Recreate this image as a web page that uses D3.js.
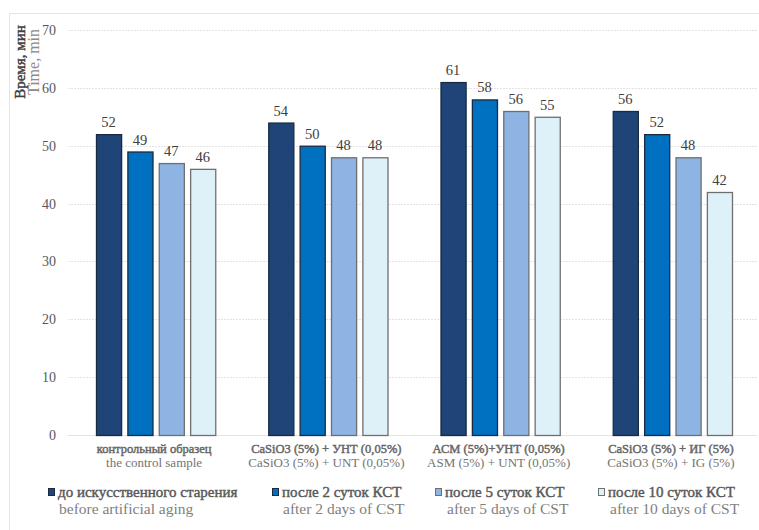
<!DOCTYPE html>
<html>
<head>
<meta charset="utf-8">
<script src="https://cdn.jsdelivr.net/npm/d3@7"></script>
<style>
  body { margin: 0; background: #fff; }
  text { font-family: "Liberation Serif", "Times New Roman", serif; }
  .bold { stroke-width: 0.45px; }
</style>
</head>
<body>
<div id="chart"></div>
<script>
const groupsRu = ["контрольный образец", "CaSiO3 (5%) + УНТ (0,05%)", "АСМ (5%)+УНТ (0,05%)", "CaSiO3 (5%) + ИГ (5%)"];
const groupsEn = ["the control sample", "CaSiO3 (5%) + UNT (0,05%)", "ASM (5%) + UNT (0,05%)", "CaSiO3 (5%) + IG (5%)"];
const seriesRu = ["до искусственного старения", "после 2 суток КСТ", "после 5 суток КСТ", "после 10 суток КСТ"];
const seriesEn = ["before artificial aging", "after 2 days of CST", "after 5 days of CST", "after 10 days of CST"];
const values = [
    [52, 54, 61, 56],
    [49, 50, 58, 52],
    [47, 48, 56, 48],
    [46, 48, 55, 42]
];
const yTicks = [0, 10, 20, 30, 40, 50, 60, 70];
const colors = ["#1f4477", "#0070c0", "#8db4e2", "#dff1f8"];

const width = 759;
const height = 530;
const margin = { top: 30, right: 2, bottom: 95, left: 68 };

const svg = d3.select("#chart")
    .append("svg")
    .attr("width", width)
    .attr("height", height);

// frame (only top and left edges show)
svg.append("path")
    .attr("d", "M9.5,530V13.5H759")
    .attr("fill", "none")
    .attr("stroke", "#e4e4e4");

const g = svg.append("g")
    .attr("transform", `translate(${margin.left},${margin.top})`);

const innerW = width - margin.left - margin.right;
const innerH = 435 - margin.top;

const x0 = d3.scaleBand()
    .domain(d3.range(groupsRu.length))
    .range([0, innerW]);

const x1 = d3.scaleBand()
    .domain(d3.range(seriesRu.length))
    .range([28, x0.bandwidth() - 25])
    .paddingInner(0.2);

const y = d3.scaleLinear()
    .domain([0, 70])
    .range([innerH, 0]);

// gridlines
g.append("g")
    .selectAll("line")
    .data(yTicks)
    .enter()
    .append("line")
    .attr("x1", 0)
    .attr("x2", innerW)
    .attr("y1", d => Math.round(y(d)) + 0.5)
    .attr("y2", d => Math.round(y(d)) + 0.5)
    .attr("stroke", "#e3e3e3")
    .attr("stroke-dasharray", d => d === 0 ? null : "2,1");

// y axis labels
const yAxis = g.append("g")
    .attr("transform", "translate(-12,0)")
    .call(d3.axisLeft(y).tickValues(yTicks).tickSize(0).tickPadding(0));
yAxis.select(".domain").remove();
yAxis.selectAll("text")
    .style("font-family", "'Liberation Serif', serif")
    .style("font-size", "14px")
    .attr("fill", "#595959");

// bars
const groups = g.selectAll(".grp")
    .data(groupsRu)
    .enter()
    .append("g")
    .attr("class", "grp")
    .attr("transform", (d, i) => `translate(${x0(i)},0)`);

groups.selectAll("rect")
    .data((d, gi) => values.map((s, si) => ({ si, v: s[gi] })))
    .enter()
    .append("rect")
    .attr("x", d => x1(d.si) + 0.5)
    .attr("y", d => y(d.v) + 0.5)
    .attr("width", x1.bandwidth())
    .attr("height", d => innerH - y(d.v))
    .attr("fill", d => colors[d.si])
    .attr("stroke", d => d.si < 2 ? "#1a2a40" : "#6f6f6f")
    .attr("stroke-width", 1.3);

groups.selectAll(".lbl")
    .data((d, gi) => values.map((s, si) => ({ si, v: s[gi] })))
    .enter()
    .append("text")
    .attr("class", "lbl")
    .attr("x", d => x1(d.si) + x1.bandwidth() / 2)
    .attr("y", d => y(d.v) - 7)
    .attr("text-anchor", "middle")
    .style("font-size", "14.5px")
    .attr("fill", "#404040")
    .text(d => d.v);

// category labels
groups.append("text")
    .attr("class", "bold")
    .attr("x", x0.bandwidth() / 2)
    .attr("y", innerH + 18)
    .attr("text-anchor", "middle")
    .style("font-size", "12.5px")
    .attr("fill", "#666")
    .attr("stroke", "#666")
    .text(d => d);

groups.append("text")
    .attr("x", x0.bandwidth() / 2)
    .attr("y", innerH + 32)
    .attr("text-anchor", "middle")
    .style("font-size", "13px")
    .attr("fill", "#747474")
    .text((d, i) => groupsEn[i]);

// y title
const yt = svg.append("g")
    .attr("transform", "translate(0,62) rotate(-90)");
yt.append("text")
    .attr("class", "bold")
    .attr("x", 0).attr("y", 25)
    .attr("text-anchor", "middle")
    .style("font-size", "15px")
    .attr("fill", "#404040")
    .attr("stroke", "#404040")
    .text("Время, мин");
yt.append("text")
    .attr("x", 0).attr("y", 39)
    .attr("text-anchor", "middle")
    .style("font-size", "16px")
    .attr("fill", "#8a8a8a")
    .text("Time, min");

// legend
const legendX = [48, 272, 435, 598];
const legendEnDx = [11, 11, 12, 12];
const legend = svg.selectAll(".leg")
    .data(seriesRu)
    .enter()
    .append("g")
    .attr("class", "leg")
    .attr("transform", (d, i) => `translate(${legendX[i]},0)`);

legend.append("rect")
    .attr("x", 0.5).attr("y", 488.5)
    .attr("width", 6).attr("height", 7)
    .attr("fill", (d, i) => colors[i])
    .attr("stroke", (d, i) => i < 2 ? "#1a2a40" : "#6f6f6f");

legend.append("text")
    .attr("class", "bold")
    .attr("x", 10).attr("y", 497)
    .style("font-size", "15px")
    .attr("fill", "#595959")
    .attr("stroke", "#595959")
    .text(d => d);

legend.append("text")
    .attr("x", (d, i) => legendEnDx[i]).attr("y", 514)
    .style("font-size", "15.5px")
    .attr("fill", "#7f7f7f")
    .text((d, i) => seriesEn[i]);
</script>
</body>
</html>
